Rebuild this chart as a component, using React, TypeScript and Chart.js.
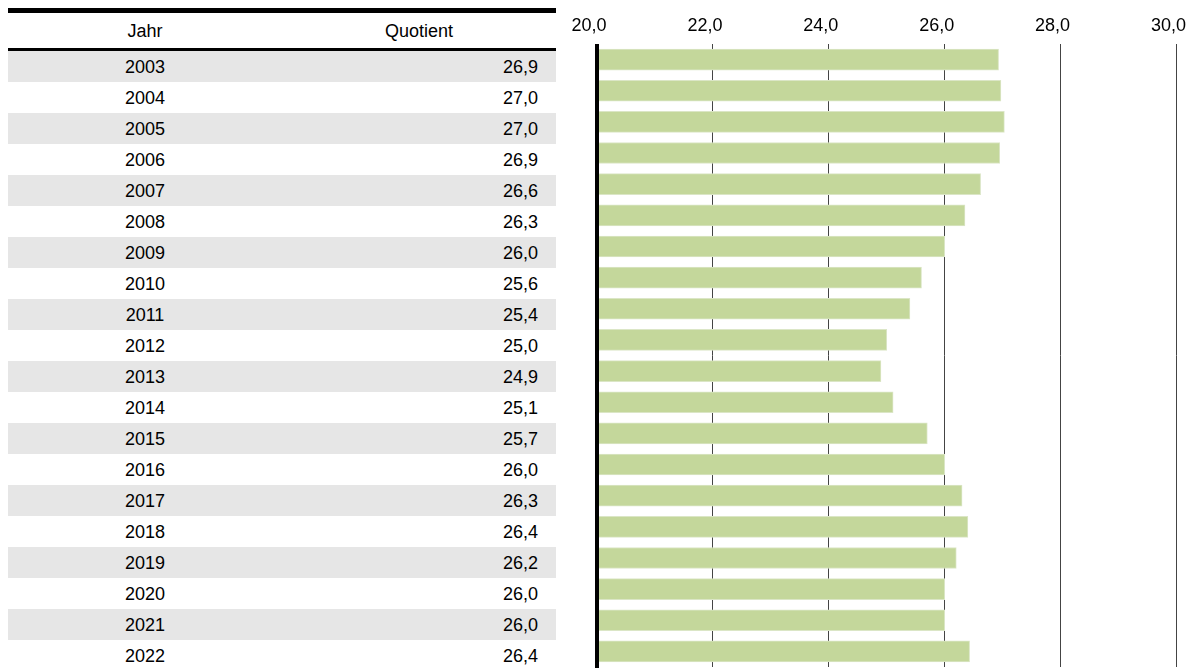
import React, { useEffect, useRef } from "react";
import { Chart, registerables } from "chart.js";

Chart.register(...registerables);

const years = ["2003", "2004", "2005", "2006", "2007", "2008", "2009", "2010", "2011", "2012", "2013", "2014", "2015", "2016", "2017", "2018", "2019", "2020", "2021", "2022"];
const quotientLabels = ["26,9", "27,0", "27,0", "26,9", "26,6", "26,3", "26,0", "25,6", "25,4", "25,0", "24,9", "25,1", "25,7", "26,0", "26,3", "26,4", "26,2", "26,0", "26,0", "26,4"];
const barValues = [26.93, 26.97, 27.03, 26.95, 26.62, 26.35, 26.0, 25.6, 25.4, 25.0, 24.9, 25.11, 25.7, 26.0, 26.3, 26.4, 26.2, 26.0, 26.0, 26.43];
const axisMin = 20;
const axisMax = 30;
const axisStep = 2;

const FONT = "'Liberation Sans', Arial, sans-serif";

const axisLinePlugin = {
  id: "axisLine",
  afterDatasetsDraw(chart: any) {
    const { ctx, chartArea } = chart;
    ctx.save();
    ctx.fillStyle = "#000";
    ctx.fillRect(chartArea.left - 2, chartArea.top, 4, chartArea.bottom - chartArea.top + 2);
    ctx.restore();
  },
};

export default function App() {
  const ref = useRef<HTMLCanvasElement | null>(null);

  useEffect(() => {
    document.body.style.margin = "0";
    if (!ref.current) return;
    const chart = new Chart(ref.current, {
      type: "bar",
      data: {
        labels: years,
        datasets: [
          {
            data: barValues,
            backgroundColor: "#c4d79b",
            borderColor: "#dbe6c6",
            borderWidth: 1,
            borderSkipped: false,
            barThickness: 21,
          },
        ],
      },
      options: {
        indexAxis: "y",
        animation: false,
        responsive: false,
        maintainAspectRatio: false,
        layout: { padding: { left: 41, right: 17, top: 0, bottom: 1 } },
        plugins: { legend: { display: false }, tooltip: { enabled: false } },
        scales: {
          x: {
            position: "top",
            min: axisMin,
            max: axisMax,
            ticks: {
              stepSize: axisStep,
              color: "#000",
              font: { family: FONT, size: 18 },
              padding: 7,
              labelOffset: -8,
              callback: (v: any) => Number(v).toFixed(1).replace(".", ","),
            },
            grid: { color: "#444", lineWidth: 1, drawTicks: false },
            border: { display: false },
            afterFit: (s: any) => {
              s.height = 44;
            },
          },
          y: {
            ticks: { display: false },
            grid: { display: false, drawTicks: false },
            border: { display: false },
            afterFit: (s: any) => {
              s.width = 0;
            },
          },
        },
      },
      plugins: [axisLinePlugin],
    });
    return () => chart.destroy();
  }, []);

  const rowH = 31;
  const tableTop = 51;

  return (
    <div style={{ position: "relative", width: 1192, height: 668, overflow: "hidden", background: "#fff", fontFamily: FONT }}>
      <div style={{ position: "absolute", left: 8, top: 8, width: 548, height: 5, background: "#000" }} />
      <div style={{ position: "absolute", left: 8, top: 14, width: 274, height: 35, lineHeight: "35px", textAlign: "center", fontSize: 18, color: "#000" }}>
        Jahr
      </div>
      <div style={{ position: "absolute", left: 282, top: 14, width: 274, height: 35, lineHeight: "35px", textAlign: "center", fontSize: 18, color: "#000" }}>
        Quotient
      </div>
      <div style={{ position: "absolute", left: 8, top: 48, width: 548, height: 3, background: "#000" }} />
      {years.map((y, i) => (
        <div
          key={y}
          style={{
            position: "absolute",
            left: 8,
            top: tableTop + i * rowH,
            width: 548,
            height: rowH,
            background: i % 2 === 0 ? "#e6e6e6" : "#fff",
            fontSize: 18,
            lineHeight: rowH + 1 + "px",
            color: "#000",
          }}
        >
          <div style={{ position: "absolute", left: 0, width: 274, textAlign: "center" }}>{y}</div>
          <div style={{ position: "absolute", right: 18, textAlign: "right" }}>{quotientLabels[i]}</div>
        </div>
      ))}
      <canvas ref={ref} width={645} height={668} style={{ position: "absolute", left: 556, top: 0, width: 645, height: 668 }} />
    </div>
  );
}
